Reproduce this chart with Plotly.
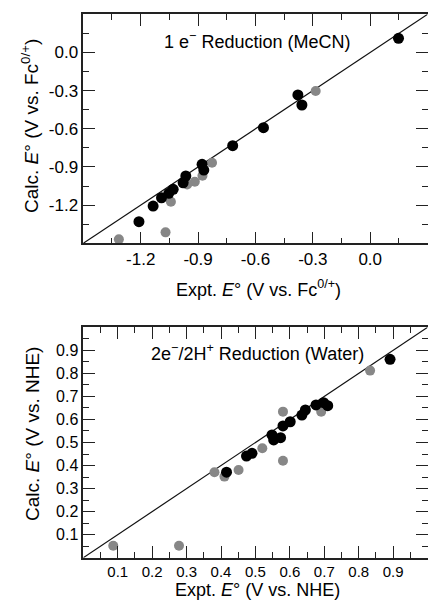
import plotly.graph_objects as go

# 1 e- reduction in MeCN (V vs Fc0/+)
mecn_black_expt = [0.148, -0.378, -0.357, -0.558, -0.719, -0.879, -0.870, -0.964,
                   -0.978, -1.030, -1.053, -1.091, -1.135, -1.209]
mecn_black_calc = [0.111, -0.334, -0.413, -0.591, -0.733, -0.879, -0.924, -0.971,
                   -1.024, -1.076, -1.107, -1.142, -1.207, -1.330]
mecn_gray_expt = [-0.285, -0.827, -0.877, -0.917, -0.957, -1.042, -1.070, -1.314]
mecn_gray_calc = [-0.303, -0.867, -0.969, -1.016, -1.037, -1.173, -1.414, -1.469]

# 2e-/2H+ reduction in water (V vs NHE)
water_black_expt = [0.891, 0.676, 0.698, 0.710, 0.645, 0.635, 0.601, 0.580,
                    0.548, 0.553, 0.573, 0.490, 0.474, 0.416]
water_black_calc = [0.861, 0.663, 0.673, 0.660, 0.641, 0.619, 0.590, 0.572,
                    0.533, 0.511, 0.521, 0.453, 0.441, 0.371]
water_gray_expt = [0.833, 0.691, 0.580, 0.580, 0.520, 0.451, 0.381, 0.410, 0.087, 0.278]
water_gray_calc = [0.812, 0.634, 0.634, 0.421, 0.475, 0.381, 0.371, 0.352, 0.052, 0.052]

mecn_range = [-1.5, 0.3]
water_range = [0.0, 1.0]
mecn_ticks = [-1.2, -0.9, -0.6, -0.3, 0.0]
mecn_ticktext = ["-1.2", "-0.9", "-0.6", "-0.3", "0.0"]
water_ticks = [0.1, 0.2, 0.3, 0.4, 0.5, 0.6, 0.7, 0.8, 0.9]
water_ticktext = ["0.1", "0.2", "0.3", "0.4", "0.5", "0.6", "0.7", "0.8", "0.9"]

FONT = "Liberation Sans, Arial, Helvetica, sans-serif"
GRAY = "#878787"
BLACK = "#000000"

fig = go.Figure()

fig.add_trace(go.Scatter(x=mecn_gray_expt, y=mecn_gray_calc, mode="markers",
                         marker=dict(size=10, color=GRAY), xaxis="x", yaxis="y"))
fig.add_trace(go.Scatter(x=mecn_black_expt, y=mecn_black_calc, mode="markers",
                         marker=dict(size=11, color=BLACK), xaxis="x", yaxis="y"))
fig.add_trace(go.Scatter(x=water_gray_expt, y=water_gray_calc, mode="markers",
                         marker=dict(size=10, color=GRAY), xaxis="x2", yaxis="y2"))
fig.add_trace(go.Scatter(x=water_black_expt, y=water_black_calc, mode="markers",
                         marker=dict(size=11, color=BLACK), xaxis="x2", yaxis="y2"))

# y = x reference lines
fig.add_shape(type="line", xref="x", yref="y", layer="below",
              x0=mecn_range[0], y0=mecn_range[0], x1=mecn_range[1], y1=mecn_range[1],
              line=dict(color="#111", width=1.2))
fig.add_shape(type="line", xref="x2", yref="y2", layer="below",
              x0=water_range[0], y0=water_range[0], x1=water_range[1], y1=water_range[1],
              line=dict(color="#111", width=1.2))


def axis(rng, ticks, text, minor_step, domain, anchor, size):
    return dict(range=rng, domain=domain, anchor=anchor,
                tickmode="array", tickvals=ticks, ticktext=text,
                ticks="inside", ticklen=12, tickwidth=1.2, tickcolor="#222",
                minor=dict(ticks="inside", tickmode="linear", tick0=0, dtick=minor_step,
                           ticklen=6, tickwidth=1.2, tickcolor="#222"),
                showline=True, linecolor="#222", linewidth=1.5, mirror="allticks",
                showgrid=False, zeroline=False,
                tickfont=dict(family=FONT, size=size, color="black"))


xdom = [83.3 / 428, 0.999]
top_dom = [1 - 243.3 / 604, 1 - 14.3 / 604]
bot_dom = [1 - 557.7 / 604, 1 - 327.3 / 604]

fig.update_layout(
    width=428, height=604,
    margin=dict(l=0, r=0, t=0, b=0),
    paper_bgcolor="white", plot_bgcolor="white",
    showlegend=False,
    font=dict(family=FONT, color="black"),
    xaxis=axis(mecn_range, mecn_ticks, mecn_ticktext, 0.15, xdom, "y", 17),
    yaxis=axis(mecn_range, mecn_ticks, mecn_ticktext, 0.15, top_dom, "x", 17),
    xaxis2=axis(water_range, water_ticks, water_ticktext, 0.05, xdom, "y2", 15),
    yaxis2=axis(water_range, water_ticks, water_ticktext, 0.05, bot_dom, "x2", 16),
)

E = "<i>E</i>°"
labels = [
    dict(text="1 e<sup>−</sup> Reduction (MeCN)", x=257, y=40, size=18, angle=0),
    dict(text="2e<sup>−</sup>/2H<sup>+</sup> Reduction (Water)", x=257, y=352, size=18, angle=0),
    dict(text="Expt. " + E + " (V vs. Fc<sup>0/+</sup>)", x=258, y=289, size=18, angle=0),
    dict(text="Expt. " + E + " (V vs. NHE)", x=257, y=590, size=18, angle=0),
    dict(text="Calc. " + E + " (V vs. Fc<sup>0/+</sup>)", x=30, y=126, size=19, angle=-90),
    dict(text="Calc. " + E + " (V vs. NHE)", x=32, y=434, size=19, angle=-90),
]
for a in labels:
    fig.add_annotation(text=a["text"], xref="paper", yref="paper",
                       x=a["x"] / 428, y=1 - a["y"] / 604,
                       xanchor="center", yanchor="middle", showarrow=False,
                       textangle=a["angle"], font=dict(family=FONT, size=a["size"], color="black"))

fig.write_html("out.html", config={"displayModeBar": False},
               post_script="document.body.style.margin='0';document.body.style.overflow='hidden';")
